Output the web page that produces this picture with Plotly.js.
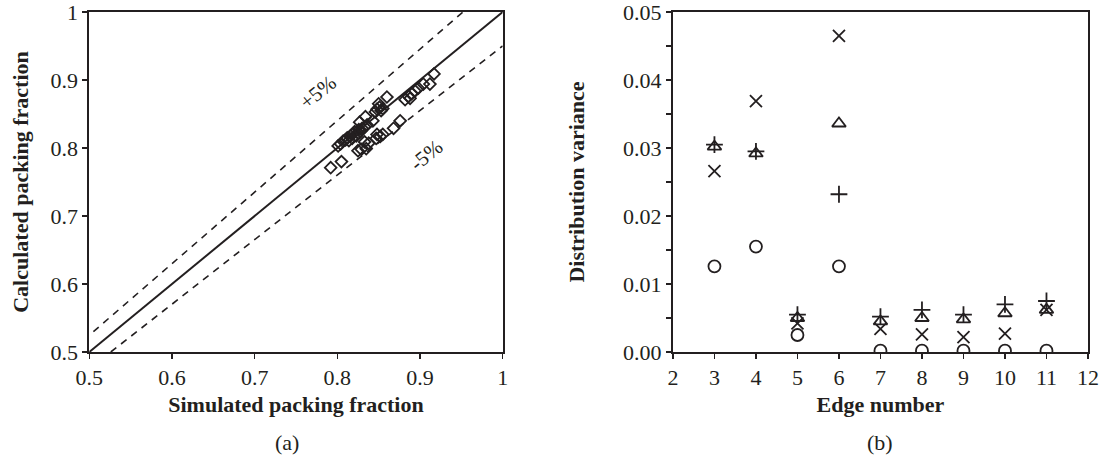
<!DOCTYPE html>
<html>
<head>
<meta charset="utf-8">
<script src="https://cdn.plot.ly/plotly-3.0.1.min.js"></script>
<style>
  html, body { margin: 0; padding: 0; background: #fff; }
  #chart { width: 1105px; height: 456px; }
</style>
</head>
<body>
<div id="chart"></div>
<script>
// (a) simulated vs calculated packing fraction
const simFraction = [
  0.792, 0.805, 0.825, 0.829, 0.835, 0.833, 0.838, 0.847, 0.848, 0.852, 0.855, 0.868, 0.876, 0.912,
  0.801, 0.804, 0.807, 0.810, 0.812, 0.814, 0.816, 0.818, 0.819, 0.821, 0.823, 0.825, 0.826, 0.828,
  0.830, 0.833, 0.836, 0.843,
  0.827, 0.834, 0.846, 0.848, 0.850, 0.851, 0.853, 0.855, 0.860,
  0.882, 0.886, 0.888, 0.890, 0.894, 0.898, 0.904, 0.917
];
const calcFraction = [
  0.771, 0.780, 0.796, 0.798, 0.799, 0.809, 0.807, 0.814, 0.820, 0.817, 0.820, 0.829, 0.840, 0.894,
  0.803, 0.806, 0.810, 0.812, 0.815, 0.811, 0.818, 0.814, 0.821, 0.824, 0.818, 0.822, 0.827, 0.824,
  0.829, 0.831, 0.834, 0.840,
  0.838, 0.846, 0.853, 0.857, 0.865, 0.860, 0.855, 0.858, 0.875,
  0.871, 0.876, 0.873, 0.880, 0.884, 0.888, 0.894, 0.909
];
// parity line and +/-5 % bounds (end points)
const parityX = [0.5, 1.0];
const parityY = [0.5, 1.0];
const upperX = [0.505, 0.952];
const upperY = [0.530, 1.0];
const lowerX = [0.526, 1.0];
const lowerY = [0.5, 0.95];
const fractionTicks = [0.5, 0.6, 0.7, 0.8, 0.9, 1.0];
const fractionTickText = ['0.5', '0.6', '0.7', '0.8', '0.9', '1'];

// (b) distribution variance by edge number
const edgeNumber = [3, 4, 5, 6, 7, 8, 9, 10, 11];
const varCircle   = [0.0126, 0.0155, 0.0025, 0.0126, 0.0002, 0.0002, 0.0002, 0.0002, 0.0002];
const varCross    = [0.0266, 0.0369, 0.0042, 0.0465, 0.0034, 0.0026, 0.0022, 0.0027, 0.0062];
const varTriangle = [0.0302, 0.0292, 0.0050, 0.0336, 0.0045, 0.0050, 0.0048, 0.0057, 0.0062];
const varPlus     = [0.0305, 0.0295, 0.0055, 0.0232, 0.0052, 0.0062, 0.0055, 0.0070, 0.0075];
const edgeTicks = [2, 3, 4, 5, 6, 7, 8, 9, 10, 11, 12];
const varianceTicks = [0, 0.01, 0.02, 0.03, 0.04, 0.05];
const varianceTickText = ['0.00', '0.01', '0.02', '0.03', '0.04', '0.05'];

const ink = '#231f20';
const serif = '"Liberation Serif", "Times New Roman", Times, serif';

function sym(y, symbol) {
  return {
    x: edgeNumber, y: y, xaxis: 'x2', yaxis: 'y2', type: 'scatter', mode: 'markers',
    marker: { symbol: symbol, size: 12, color: ink, line: { color: ink, width: 1.8 } },
    showlegend: false, hoverinfo: 'x+y'
  };
}

const traces = [
  { x: parityX, y: parityY, mode: 'lines', line: { color: ink, width: 2 }, showlegend: false, hoverinfo: 'skip' },
  { x: upperX, y: upperY, mode: 'lines', line: { color: ink, width: 1.6, dash: '7px,6px' }, showlegend: false, hoverinfo: 'skip' },
  { x: lowerX, y: lowerY, mode: 'lines', line: { color: ink, width: 1.6, dash: '7px,6px' }, showlegend: false, hoverinfo: 'skip' },
  { x: simFraction, y: calcFraction, mode: 'markers', type: 'scatter',
    marker: { symbol: 'diamond-open', size: 9, color: ink, line: { color: ink, width: 1.8 } },
    showlegend: false },
  sym(varCircle, 'circle-open'),
  sym(varCross, 'x-thin-open'),
  sym(varTriangle, 'triangle-up-open'),
  sym(varPlus, 'cross-thin-open')
];

// plot areas run from 12 px below the top edge down to 352 px
const yDom = [1 - 352 / 456, 1 - 12 / 456];
const tickFont = { family: serif, size: 22, color: ink };
const titleFont = { family: serif, size: 22, color: ink };
const axisCommon = {
  showgrid: false, zeroline: false, showline: true, linecolor: ink, linewidth: 2,
  mirror: true, ticks: 'outside', ticklen: 5, tickwidth: 1.5, tickcolor: ink,
  tickfont: tickFont, tickmode: 'array', ticklabeloverflow: 'allow'
};

const layout = {
  width: 1105, height: 456,
  margin: { l: 0, r: 0, t: 0, b: 0 },
  paper_bgcolor: '#fff', plot_bgcolor: '#fff',
  font: { family: serif, color: ink },
  xaxis: Object.assign({}, axisCommon, {
    domain: [0.0808, 0.4549], range: [0.5, 1],
    tickvals: fractionTicks, ticktext: fractionTickText,
    title: { text: '<b>Simulated packing fraction</b>', font: titleFont, standoff: 7 }
  }),
  yaxis: Object.assign({}, axisCommon, {
    domain: yDom, range: [0.5, 1],
    tickvals: fractionTicks, ticktext: fractionTickText,
    title: { text: '<b>Calculated packing fraction</b>', font: titleFont, standoff: 16 }
  }),
  xaxis2: Object.assign({}, axisCommon, {
    anchor: 'y2', domain: [0.609, 0.9846], range: [2, 12],
    tickvals: edgeTicks,
    title: { text: '<b>Edge number</b>', font: titleFont, standoff: 7 }
  }),
  yaxis2: Object.assign({}, axisCommon, {
    anchor: 'x2', domain: yDom, range: [0, 0.05],
    tickvals: varianceTicks, ticktext: varianceTickText,
    minor: { tickmode: 'linear', tick0: 0, dtick: 0.005, ticks: 'outside', ticklen: 5, tickwidth: 1.5, tickcolor: ink, showgrid: false },
    title: { text: '<b>Distribution variance</b>', font: titleFont, standoff: 32 }
  }),
  annotations: [
    { xref: 'x', yref: 'y', x: 0.777, y: 0.882, text: '+5%', showarrow: false, textangle: -39.5,
      font: { family: serif, size: 21, color: ink } },
    { xref: 'x', yref: 'y', x: 0.908, y: 0.789, text: '-5%', showarrow: false, textangle: -39.5,
      font: { family: serif, size: 21, color: ink } },
    { xref: 'paper', yref: 'paper', x: 0.2597, y: 1 - 442 / 456, xanchor: 'center', yanchor: 'middle',
      text: '(a)', showarrow: false, font: { family: serif, size: 22, color: ink } },
    { xref: 'paper', yref: 'paper', x: 0.7967, y: 1 - 442 / 456, xanchor: 'center', yanchor: 'middle',
      text: '(b)', showarrow: false, font: { family: serif, size: 22, color: ink } }
  ]
};

Plotly.newPlot('chart', traces, layout, { displayModeBar: false, staticPlot: true });
</script>
</body>
</html>
